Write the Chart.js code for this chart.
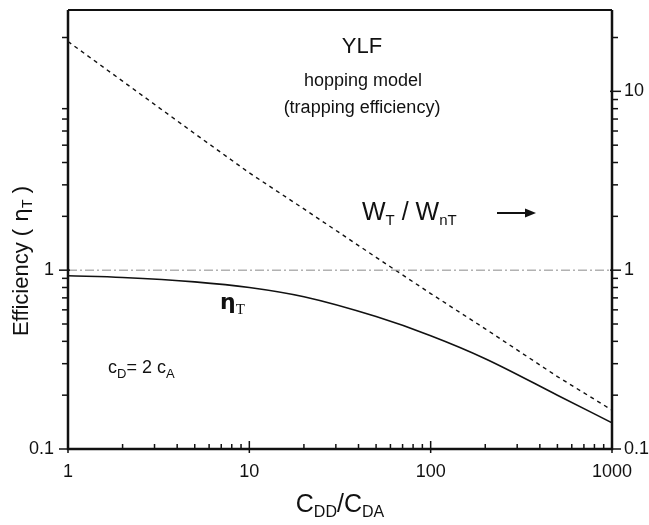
<!DOCTYPE html>
<html>
<head>
<meta charset="utf-8">
<script src="https://cdn.jsdelivr.net/npm/chart.js@4.4.1/dist/chart.umd.min.js"></script>
<style>
  body { margin: 0; background: #fff; }
</style>
</head>
<body>
<canvas id="chart" width="649" height="525"></canvas>
<script>
// DATA
const ratioCdd = [1, 2, 5, 10, 20, 50, 100, 200, 500, 1000];
const etaT = [0.93, 0.91, 0.86, 0.80, 0.71, 0.55, 0.43, 0.32, 0.20, 0.14];
const wRatio = [19, 11.4, 5.8, 3.5, 2.2, 1.18, 0.74, 0.47, 0.254, 0.165];
const unityX = [1, 1000];
const unityY = [1, 1];

const xTickLabels = [1, 10, 100, 1000];
const yLeftLabels = [0.1, 1];
const yRightLabels = [0.1, 1, 10];
const xTicksAll = [1,2,3,4,5,6,7,8,9,10,20,30,40,50,60,70,80,90,100,200,300,400,500,600,700,800,900,1000];
const yTicksLeft = [0.1,0.2,0.3,0.4,0.5,0.6,0.7,0.8,0.9,1,2,3,4,5,6,7,8,20];
const yTicksRight = [0.1,0.2,0.3,0.4,0.5,0.6,0.7,0.8,0.9,1,2,3,4,5,6,7,8,9,10,20];

const FONT = 'Liberation Sans, Arial, sans-serif';

function pts(xs, ys) { return xs.map((x, i) => ({ x: x, y: ys[i] })); }

// matn bo'laklarini ketma-ket chizish (indekslar uchun)
function drawParts(ctx, parts, x, y, align) {
    let w = 0;
    parts.forEach(p => { ctx.font = p.font; w += ctx.measureText(p.t).width; });
    let cx = align === 'center' ? x - w / 2 : x;
    ctx.textAlign = 'left';
    ctx.textBaseline = 'alphabetic';
    parts.forEach(p => {
        ctx.font = p.font;
        ctx.fillText(p.t, cx, y + (p.dy || 0));
        cx += ctx.measureText(p.t).width;
    });
}

const framePlugin = {
    id: 'frame',
    afterDraw(chart) {
        const ctx = chart.ctx;
        const a = chart.chartArea;
        const sx = chart.scales.x, sy = chart.scales.y;
        ctx.save();
        ctx.strokeStyle = '#111';
        ctx.fillStyle = '#111';

        // ramka
        ctx.lineWidth = 2.5;
        ctx.beginPath();
        ctx.moveTo(a.left, a.top); ctx.lineTo(a.left, a.bottom);
        ctx.lineTo(a.right, a.bottom); ctx.lineTo(a.right, a.top);
        ctx.stroke();
        ctx.lineWidth = 2;
        ctx.beginPath(); ctx.moveTo(a.left, a.top); ctx.lineTo(a.right, a.top); ctx.stroke();

        // tick marks
        ctx.lineWidth = 1.5;
        xTicksAll.forEach(v => {
            const px = sx.getPixelForValue(v);
            const major = xTickLabels.includes(v);
            ctx.beginPath();
            ctx.moveTo(px, a.bottom + (major ? 4 : 0));
            ctx.lineTo(px, a.bottom - (major ? 8 : 5));
            ctx.stroke();
        });
        yTicksLeft.forEach(v => {
            const py = sy.getPixelForValue(v);
            const major = yLeftLabels.includes(v);
            ctx.beginPath();
            ctx.moveTo(a.left + (major ? 2 : 0), py); ctx.lineTo(a.left - (major ? 9 : 6), py);
            ctx.stroke();
        });
        yTicksRight.forEach(v => {
            const py = sy.getPixelForValue(v);
            const major = yRightLabels.includes(v);
            ctx.beginPath();
            ctx.moveTo(a.right - (major ? 2 : 0), py); ctx.lineTo(a.right + (major ? 9 : 6), py);
            ctx.stroke();
        });

        // yozuvlar
        drawParts(ctx, [{ t: 'YLF', font: '22px ' + FONT }], 362, 53, 'center');
        drawParts(ctx, [{ t: 'hopping model', font: '18px ' + FONT }], 363, 86, 'center');
        drawParts(ctx, [{ t: '(trapping efficiency)', font: '18px ' + FONT }], 362, 113, 'center');

        drawParts(ctx, [
            { t: 'W', font: '25px ' + FONT },
            { t: 'T', font: '15px ' + FONT, dy: 5 },
            { t: ' / W', font: '25px ' + FONT },
            { t: 'nT', font: '15px ' + FONT, dy: 5 }
        ], 362, 220, 'left');
        ctx.lineWidth = 2;
        ctx.beginPath(); ctx.moveTo(497, 213); ctx.lineTo(530, 213); ctx.stroke();
        ctx.beginPath(); ctx.moveTo(536, 213); ctx.lineTo(525, 208.5); ctx.lineTo(525, 217.5); ctx.closePath(); ctx.fill();

        drawParts(ctx, [
            { t: 'η', font: 'bold 22px DejaVu Sans' },
            { t: 'T', font: '15px Liberation Serif', dy: 5 }
        ], 220, 309, 'left');

        drawParts(ctx, [
            { t: 'c', font: '18px ' + FONT },
            { t: 'D', font: '13px ' + FONT, dy: 5 },
            { t: '= 2 c', font: '18px ' + FONT },
            { t: 'A', font: '13px ' + FONT, dy: 5 }
        ], 108, 373, 'left');

        // o'q nomlari
        drawParts(ctx, [
            { t: 'C', font: '25px ' + FONT },
            { t: 'DD', font: '16px ' + FONT, dy: 5 },
            { t: '/C', font: '25px ' + FONT },
            { t: 'DA', font: '16px ' + FONT, dy: 5 }
        ], 340, 512, 'center');

        ctx.translate(28, 261);
        ctx.rotate(-Math.PI / 2);
        drawParts(ctx, [
            { t: 'Efficiency (', font: '22px ' + FONT },
            { t: ' η', font: '22px DejaVu Sans' },
            { t: 'T', font: '14px ' + FONT, dy: 4 },
            { t: ' )', font: '22px ' + FONT }
        ], 0, 0, 'center');
        ctx.restore();
    }
};

function setTicks(list) {
    return scale => { scale.ticks = list.map(v => ({ value: v })); };
}

new Chart(document.getElementById('chart'), {
    type: 'line',
    data: {
        datasets: [
            { label: 'unity', data: pts(unityX, unityY), borderColor: '#8a8a8a', borderWidth: 1, borderDash: [9, 3, 2, 3], pointRadius: 0, yAxisID: 'y' },
            { label: 'eta_T', data: pts(ratioCdd, etaT), borderColor: '#111', borderWidth: 1.6, pointRadius: 0, cubicInterpolationMode: 'monotone', yAxisID: 'y' },
            { label: 'W_T/W_nT', data: pts(ratioCdd, wRatio), borderColor: '#111', borderWidth: 1.4, borderDash: [4, 4], pointRadius: 0, tension: 0, yAxisID: 'y2' }
        ]
    },
    options: {
        responsive: false,
        animation: false,
        devicePixelRatio: 1,
        layout: { padding: { top: 10, left: 0, right: 0, bottom: 0 } },
        plugins: { legend: { display: false }, tooltip: { enabled: false } },
        scales: {
            x: {
                type: 'logarithmic', min: 1, max: 1000, position: 'bottom',
                grid: { display: false, drawTicks: false }, border: { display: false },
                afterBuildTicks: setTicks(xTicksAll),
                afterFit: s => { s.height = 76; s.paddingLeft = 0; s.paddingRight = 0; },
                ticks: {
                    autoSkip: false, maxRotation: 0, padding: 12, color: '#111',
                    font: { family: FONT, size: 18 },
                    callback: v => xTickLabels.includes(v) ? String(v) : ''
                }
            },
            y: {
                type: 'logarithmic', min: 0.1, max: 28.5, position: 'left',
                grid: { display: false, drawTicks: false }, border: { display: false },
                afterBuildTicks: setTicks(yTicksRight),
                afterFit: s => { s.width = 68; s.paddingTop = 0; s.paddingBottom = 0; },
                ticks: {
                    autoSkip: false, padding: 14, color: '#111',
                    font: { family: FONT, size: 18 },
                    callback: v => yLeftLabels.includes(v) ? String(v) : ''
                }
            },
            y2: {
                type: 'logarithmic', min: 0.1, max: 28.5, position: 'right',
                grid: { display: false, drawTicks: false }, border: { display: false },
                afterBuildTicks: setTicks(yTicksRight),
                afterFit: s => { s.width = 37; s.paddingTop = 0; s.paddingBottom = 0; },
                ticks: {
                    autoSkip: false, padding: 12, color: '#111',
                    font: { family: FONT, size: 18 },
                    callback: v => yRightLabels.includes(v) ? String(v) : ''
                }
            }
        }
    },
    plugins: [framePlugin]
});
</script>
</body>
</html>
